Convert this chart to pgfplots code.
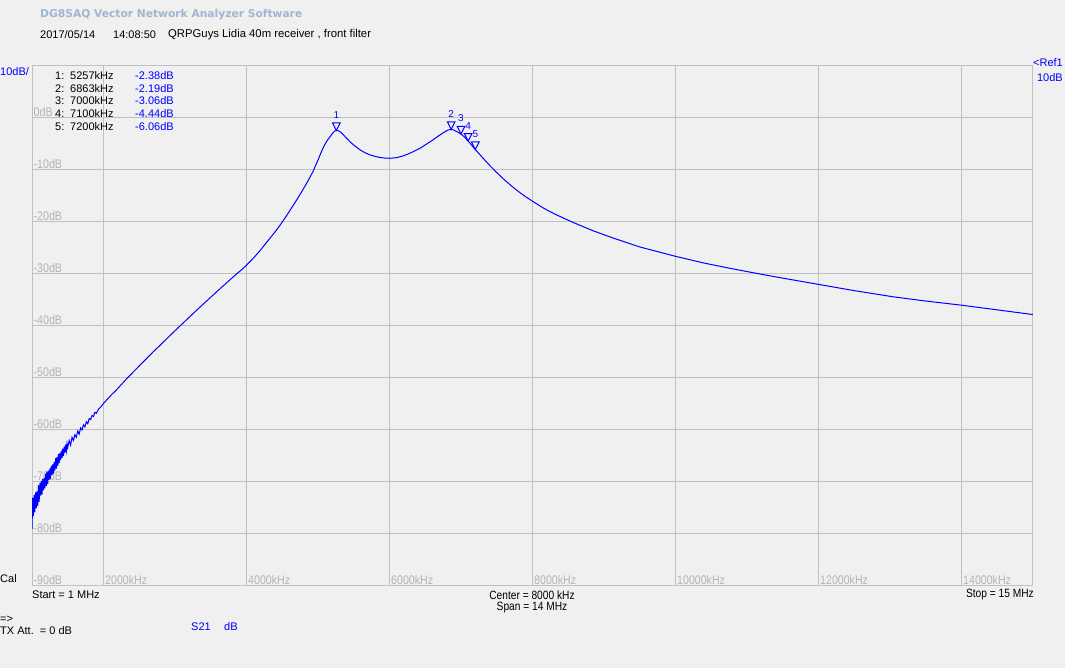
\documentclass[border=0pt]{standalone}
\usepackage{pgfplots}
\pgfplotsset{compat=1.18}
\usepackage{fontspec}
\setmainfont{Liberation Sans}
\newfontfamily\narrowfont[FakeStretch=0.85]{Liberation Sans}
\newfontfamily\titlefont{DejaVu Sans}
\definecolor{bgc}{RGB}{240,240,240}
\definecolor{gridc}{RGB}{192,192,192}
\definecolor{tickc}{RGB}{180,180,180}
\definecolor{titlec}{RGB}{160,182,208}
\definecolor{trace}{RGB}{0,0,255}

% marker: open triangle pointing down, apex on the data point
\pgfdeclareplotmark{dtri}{%
  \pgfpathmoveto{\pgfqpoint{0bp}{0bp}}%
  \pgfpathlineto{\pgfqpoint{-3.8bp}{7.5bp}}%
  \pgfpathlineto{\pgfqpoint{3.8bp}{7.5bp}}%
  \pgfpathclose
  \pgfusepathqstroke}

\newcommand{\fs}[1]{\fontsize{#1bp}{#1bp}\selectfont}

\begin{document}
\begin{tikzpicture}
\fill[bgc] (0,0) rectangle (1065bp,668bp);

\begin{axis}[
  at={(32bp,82bp)}, anchor=south west,
  scale only axis, width=1001bp, height=520bp,
  xmin=1, xmax=15, ymin=-90, ymax=10,
  xtick={2,4,...,14},
  xticklabels={2000kHz,4000kHz,6000kHz,8000kHz,10000kHz,12000kHz,14000kHz},
  ytick={-90,-80,...,0},
  yticklabels={-90dB,-80dB,-70dB,-60dB,-50dB,-40dB,-30dB,-20dB,-10dB,0dB},
  major tick length=0pt,
  grid=major,
  grid style={draw=gridc, line width=1bp},
  axis line style={draw=gridc, line width=1bp},
  xticklabel style={anchor=south west, inner sep=1.5bp, text=tickc, font=\narrowfont\fs{12.5}},
  yticklabel style={anchor=south west, inner sep=1.5bp, text=tickc, font=\narrowfont\fs{12.5}},
]
% S21 trace (MHz, dB)
\addplot[trace, line width=1bp] coordinates {
(1.00,-79.0) (1.01,-73.0) (1.02,-76.5) (1.03,-72.5) (1.04,-75.8)
(1.05,-72.0) (1.06,-75.0) (1.07,-71.8) (1.08,-74.6) (1.09,-70.6)
(1.10,-73.8) (1.11,-70.2) (1.12,-72.6) (1.13,-69.8) (1.14,-72.4)
(1.15,-69.4) (1.16,-71.6) (1.17,-69.2) (1.18,-71.2) (1.19,-68.4)
(1.20,-70.8) (1.21,-68.0) (1.22,-70.4) (1.23,-67.8) (1.24,-69.6)
(1.25,-67.4) (1.26,-69.4) (1.27,-66.9) (1.28,-68.6) (1.29,-66.6)
(1.30,-68.4) (1.31,-66.2) (1.32,-67.8) (1.33,-65.4) (1.34,-67.4)
(1.35,-65.2) (1.36,-66.9) (1.37,-64.6) (1.38,-66.4) (1.39,-64.4)
(1.40,-65.8) (1.41,-64.0) (1.42,-65.4) (1.43,-63.6) (1.44,-65.0)
(1.45,-63.2) (1.46,-64.4) (1.47,-62.8) (1.48,-64.0) (1.49,-62.6)
(1.50,-63.4) (1.52,-62.0) (1.54,-62.9) (1.56,-61.4) (1.58,-62.0)
(1.60,-60.9) (1.62,-61.4) (1.64,-60.2) (1.66,-60.8) (1.68,-59.6)
(1.70,-60.0) (1.72,-59.0) (1.74,-59.4) (1.76,-58.4) (1.78,-58.8)
(1.80,-57.8) (1.82,-58.0) (1.84,-57.2) (1.86,-57.4) (1.88,-56.6)
(1.90,-56.8) (1.93,-56.0) (1.96,-55.6) (2.00,-54.9) (2.04,-54.3)
(2.08,-53.7) (2.12,-53.1) (2.16,-52.6) (2.20,-52.0) (2.26,-51.1)
(2.32,-50.2) (2.42,-48.8) (2.52,-47.4) (2.60,-46.3) (2.70,-44.9)
(2.80,-43.6) (2.94,-41.7) (3.07,-40.0) (3.20,-38.3) (3.30,-37.0)
(3.45,-35.1) (3.60,-33.2) (3.73,-31.6) (3.86,-30.0) (3.93,-29.2)
(4.00,-28.3) (4.10,-26.9) (4.19,-25.5) (4.30,-23.6) (4.40,-21.9)
(4.47,-20.6) (4.55,-19.0) (4.63,-17.3) (4.70,-15.8) (4.78,-14.0)
(4.86,-12.1) (4.93,-10.3) (5.00,-8.1) (5.035,-6.9) (5.07,-5.8)
(5.10,-5.0) (5.135,-4.2) (5.17,-3.6) (5.19,-3.2) (5.21,-2.85)
(5.23,-2.56) (5.257,-2.38) (5.28,-2.42) (5.30,-2.56) (5.32,-2.76)
(5.35,-3.15) (5.40,-3.9) (5.45,-4.6) (5.50,-5.2) (5.59,-6.15)
(5.66,-6.7) (5.73,-7.1) (5.80,-7.4) (5.87,-7.6) (5.94,-7.72)
(6.01,-7.75) (6.10,-7.62) (6.19,-7.3) (6.30,-6.7) (6.43,-5.8)
(6.52,-5.0) (6.61,-4.2) (6.68,-3.5) (6.75,-2.85) (6.80,-2.45)
(6.83,-2.27) (6.863,-2.19) (6.90,-2.32) (6.94,-2.62) (7.00,-3.06)
(7.05,-3.7) (7.10,-4.44) (7.15,-5.25) (7.20,-6.06) (7.30,-7.6)
(7.40,-9.1) (7.50,-10.5) (7.60,-11.8) (7.70,-13.0) (7.80,-14.1)
(7.90,-15.1) (8.00,-16.0) (8.15,-17.3) (8.30,-18.4) (8.57,-20.1)
(8.85,-21.7) (9.13,-23.1) (9.50,-24.8) (10.00,-26.6) (10.40,-27.9)
(10.76,-28.9) (11.18,-30.0) (11.46,-30.7) (12.00,-32.0) (12.50,-33.2)
(13.05,-34.4) (13.50,-35.2) (14.00,-36.0) (14.50,-36.9) (15.00,-37.8)
};
% markers 1..5
\addplot[trace, line width=1bp, only marks, mark=dtri,
  point meta=explicit symbolic, nodes near coords,
  every node near coord/.append style={anchor=south, yshift=11.5bp, inner sep=0pt, text=trace, font=\fs{10}}]
  coordinates {
(5.257,-2.38) [1]
(6.863,-2.19) [2]
(7.000,-3.06) [3]
(7.100,-4.44) [4]
(7.200,-6.06) [5]
};
\end{axis}

\begin{scope}[x=1bp, y=-1bp, yshift=668bp]
% header
\node[anchor=west, inner sep=0, text=titlec, font=\titlefont\bfseries\fs{10.7}] at (40,15) {DG8SAQ Vector Network Analyzer Software};
\begin{scope}[every node/.style={anchor=west, inner sep=0, font=\fs{11}}]
\node at (40,35) {2017/05/14};
\node at (113,35) {14:08:50};
\node[font=\fs{11.3}] at (168,35) {QRPGuys Lidia 40m receiver , front filter};
% marker table
\node at (55,76) {1:}; \node at (70,76) {5257kHz}; \node[text=trace] at (135,76) {-2.38dB};
\node at (55,89) {2:}; \node at (70,89) {6863kHz}; \node[text=trace] at (135,89) {-2.19dB};
\node at (55,101) {3:}; \node at (70,101) {7000kHz}; \node[text=trace] at (135,101) {-3.06dB};
\node at (55,114) {4:}; \node at (70,114) {7100kHz}; \node[text=trace] at (135,114) {-4.44dB};
\node at (55,127) {5:}; \node at (70,127) {7200kHz}; \node[text=trace] at (135,127) {-6.06dB};
\node[text=trace] at (0,72) {10dB/};
\node[text=trace, anchor=east] at (1063,63) {<Ref1};
\node[text=trace, anchor=east] at (1063,78) {10dB};
% footer
\node at (0,579) {Cal};
\node at (32,595) {Start = 1 MHz};
\node[anchor=center, font=\narrowfont\fs{12}] at (532,595) {Center = 8000 kHz};
\node[anchor=center, font=\narrowfont\fs{12}] at (532,608) {Span = 14 MHz};
\node[anchor=east, font=\narrowfont\fs{12}] at (1034,595) {Stop = 15 MHz};
\node at (0,619) {=>};
\node at (0,631) {TX Att.\ \ = 0 dB};
\node[text=trace] at (191,627) {S21};
\node[text=trace] at (224,627) {dB};
\end{scope}
\end{scope}

\pgfresetboundingbox
\path[use as bounding box] (0,0) rectangle (1065bp,668bp);
\end{tikzpicture}
\end{document}
